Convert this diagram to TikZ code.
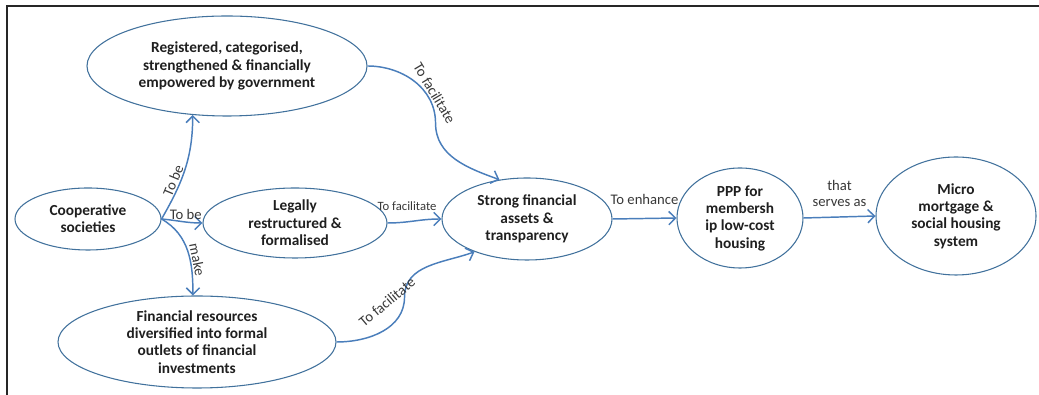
\documentclass[tikz,border=0pt]{standalone}
\usepackage{fontspec}
\setmainfont{Carlito}
\usetikzlibrary{shapes.geometric,arrows.meta}
\definecolor{rimblue}{RGB}{65,113,156}
\definecolor{linkblue}{RGB}{74,126,187}

\begin{document}
\begin{tikzpicture}[x=0.75pt,y=0.75pt,
    bubble/.style={ellipse,draw=rimblue,line width=0.8pt,inner sep=0pt,align=center,
      text=black!88,font=\fontsize{11.5}{13}\selectfont\bfseries},
    link/.style={draw=linkblue,line width=1.1pt,-{Straight Barb[length=5pt,width=10pt]}},
    lbl/.style={text=black!78,inner sep=1pt,font=\fontsize{11}{12.5}\selectfont}]
    \useasboundingbox (0,0) rectangle (1039,395);
    \draw[line width=1.6pt,black!85] (7,0) -- (7,389) -- (1039,389);

    \node[bubble,minimum width=210pt,minimum height=75pt] (reg) at (227,329)
        {Registered, categorised,\\strengthened \& financially\\empowered by government};
    \node[bubble,minimum width=109.5pt,minimum height=46.5pt] (coop) at (88,176)
        {Cooperative\\societies};
    \node[bubble,minimum width=138pt,minimum height=52.5pt] (legal) at (295,172)
        {Legally\\restructured \&\\formalised};
    \node[bubble,minimum width=208.5pt,minimum height=69pt] (fin) at (197,53)
        {Financial resources\\diversified into formal\\outlets of financial\\investments};
    \node[bubble,minimum width=127.5pt,minimum height=61.5pt] (strong) at (527,176)
        {Strong financial\\assets \&\\transparency};
    \node[bubble,minimum width=94.5pt,minimum height=75pt] (ppp) at (740,177)
        {PPP for\\membersh\\ip low-cost\\housing};
    \node[bubble,minimum width=120pt,minimum height=88.5pt] (micro) at (956,179)
        {Micro\\mortgage \&\\social housing\\system};

    \draw[link] (coop.east) to[out=60,in=-90] node[lbl,sloped,above,pos=0.35] {To be} (reg.235);
    \draw[link] (coop.east) to[out=-5,in=180] node[lbl,above,pos=0.6] {To be} (legal.west);
    \draw[link] (coop.east) to[out=-30,in=90] node[lbl,sloped,above,pos=0.62] {make} (fin.95);
    \draw[link] (reg.east) to[out=0,in=90] node[lbl,sloped,above,pos=0.72] {To facilitate} ++(68,-57)
        to[out=-90,in=160] (strong.125);
    \draw[link] (legal.east) to[out=0,in=180]
        node[lbl,above=7pt,pos=0.35,font=\fontsize{9.5}{11}\selectfont] {To facilitate} (strong.west);
    \draw[link] (fin.east) to[out=0,in=-90] ++(68,45) coordinate (bend)
        to[out=90,in=200] (strong.212);
    \node[lbl,rotate=40] (facfin) at (387,93) {To facilitate};
    \draw[link] (strong.east) -- node[lbl,above=9pt] {To enhance} (ppp.west);
    \draw[link] (ppp.east) -- node[lbl,above=6pt,align=center] {that\\serves as} (micro.west);
\end{tikzpicture}
\end{document}
